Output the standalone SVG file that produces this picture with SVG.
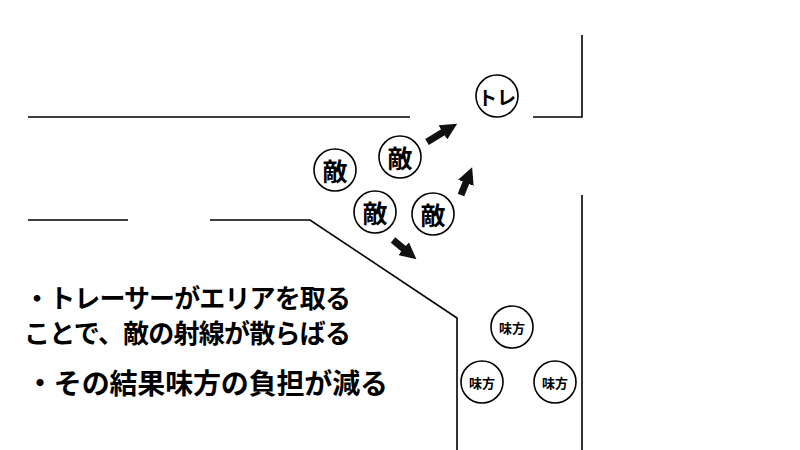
<svg xmlns="http://www.w3.org/2000/svg" width="800" height="450" viewBox="0 0 800 450">
<style>
.w{fill:none;stroke:#000;stroke-width:1.6}
.c{fill:#fff;stroke:#000;stroke-width:1.6}
.t{font-family:"Noto Sans CJK JP",sans-serif;font-weight:bold;text-anchor:middle;dominant-baseline:central}
.a{stroke:#111;stroke-width:7;fill:none}
.m{font-family:"Noto Sans CJK JP",sans-serif;font-weight:bold;fill:#000}
</style>
<defs><marker id="h" viewBox="0 0 10 10" refX="5" refY="5" markerWidth="2.4" markerHeight="2.4" orient="auto" markerUnits="strokeWidth"><path d="M0,0L10,5L0,10z" fill="#111"/></marker></defs>
<rect width="800" height="450" fill="#fff"/>
<g id="walls">
<path class="w" d="M28,117H410M533,117H582V35M28,220H128M210,220H310L457,318V450M582,195V450"/>
</g>
<g id="connectors">
<path class="a" d="M427,142L450,128" marker-end="url(#h)"/>
<path class="a" d="M461,195L469,175" marker-end="url(#h)"/>
<path class="a" d="M393,240L410,254" marker-end="url(#h)"/>
</g>
<g id="toilet"><circle class="c" cx="497" cy="96" r="21"/><text class="t" x="497" y="96" font-size="19">トレ</text></g>
<g id="enemy1"><circle class="c" cx="335" cy="170" r="21"/><text class="t" x="335" y="170" font-size="25">敵</text></g>
<g id="enemy2"><circle class="c" cx="400" cy="157" r="21"/><text class="t" x="400" y="157" font-size="25">敵</text></g>
<g id="enemy3"><circle class="c" cx="375" cy="212" r="21"/><text class="t" x="375" y="212" font-size="25">敵</text></g>
<g id="enemy4"><circle class="c" cx="433" cy="214" r="21"/><text class="t" x="433" y="214" font-size="25">敵</text></g>
<g id="ally1"><circle class="c" cx="512" cy="327" r="21"/><text class="t" x="512" y="327" font-size="13">味方</text></g>
<g id="ally2"><circle class="c" cx="482" cy="382" r="21"/><text class="t" x="482" y="382" font-size="13">味方</text></g>
<g id="ally3"><circle class="c" cx="555" cy="382" r="21"/><text class="t" x="555" y="382" font-size="13">味方</text></g>
<text class="m" x="24" y="308" font-size="26" textLength="327">・トレーサーがエリアを取る</text>
<text class="m" x="24" y="343" font-size="26" textLength="327">ことで、敵の射線が散らばる</text>
<text class="m" x="26" y="394" font-size="28" textLength="362">・その結果味方の負担が減る</text>
</svg>
